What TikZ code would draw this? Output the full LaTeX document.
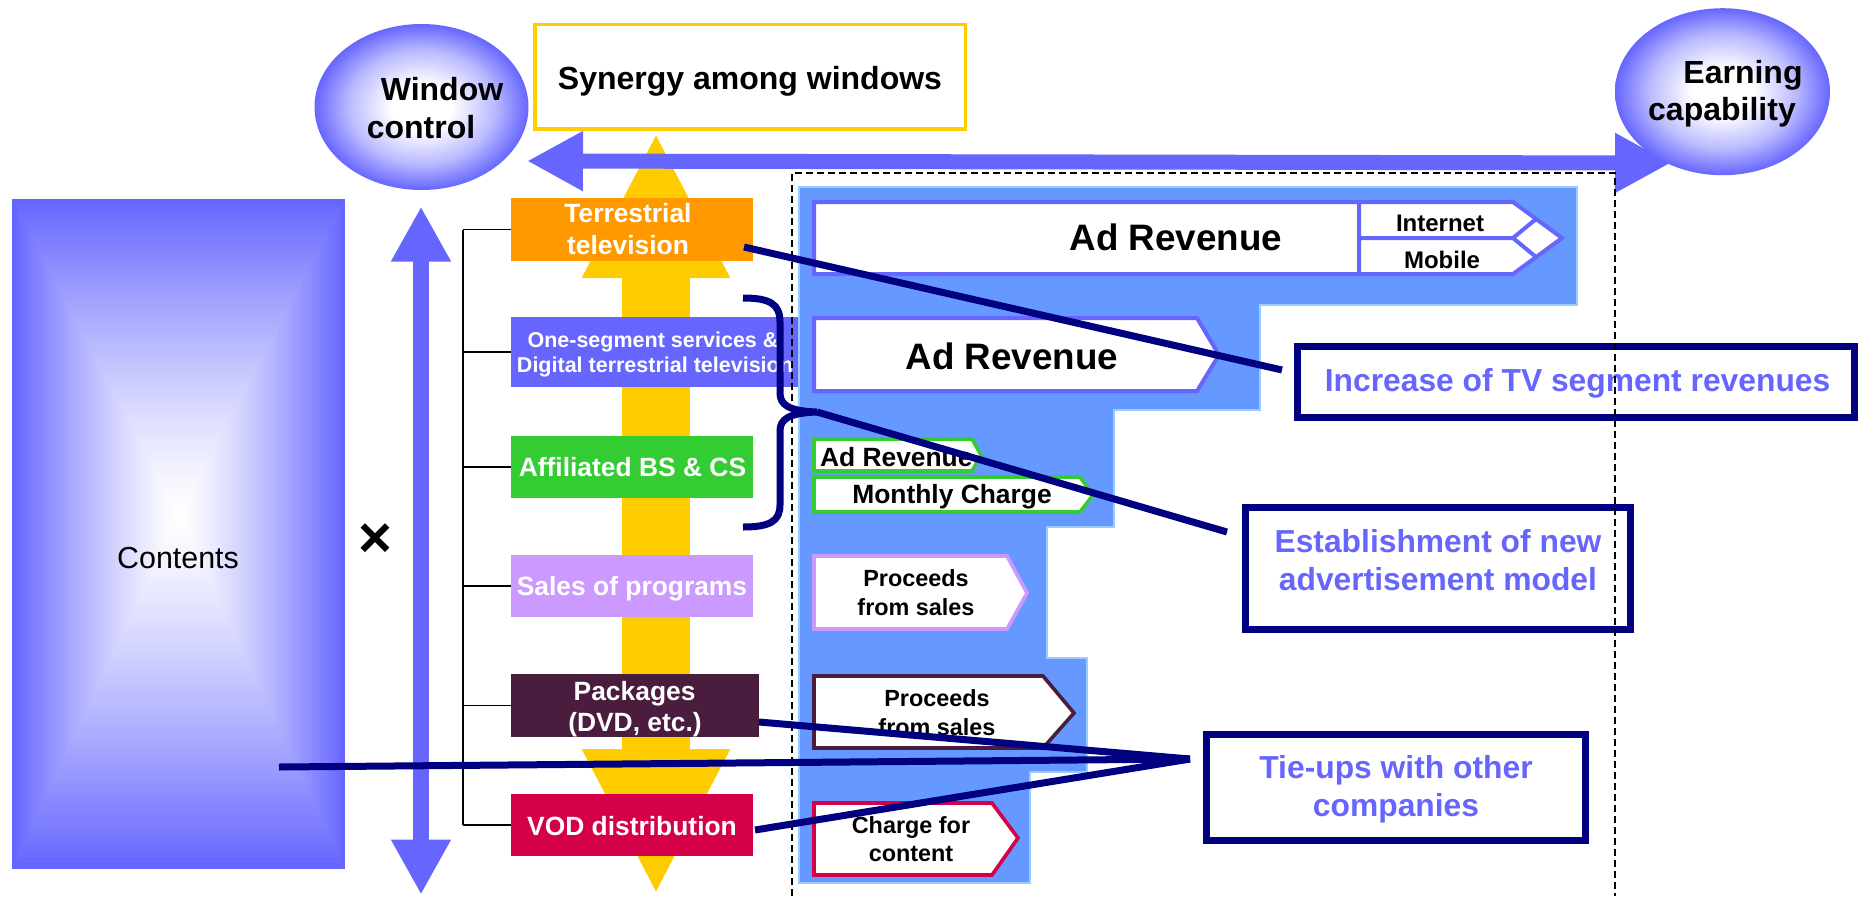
\documentclass[tikz,border=0pt]{standalone}
\usepackage{fontspec}
\setmainfont{Liberation Sans}
\usetikzlibrary{arrows.meta,shapes.geometric,calc}

\definecolor{periw}{HTML}{6666FF}
\definecolor{gold}{HTML}{FFCC00}
\definecolor{tvorange}{HTML}{FF9900}
\definecolor{bsgreen}{HTML}{33CC33}
\definecolor{lilac}{HTML}{CC99FF}
\definecolor{plum}{HTML}{4A1C3E}
\definecolor{crimson}{HTML}{D4004A}
\definecolor{skyfill}{HTML}{6699FF}
\definecolor{skyedge}{HTML}{99CCFF}
\definecolor{navyline}{HTML}{000080}

% soft glow used inside the two bubbles
\pgfdeclareradialshading{softglow}{\pgfpoint{0bp}{0bp}}{%
  color(0bp)=(white); color(7bp)=(white); color(17bp)=(periw!45!white);
  color(25bp)=(periw); color(50bp)=(periw)}

% font sizes
\newcommand\dgTitle{\fontsize{16}{19}\selectfont\bfseries}
\newcommand\dgCont{\fontsize{15.2}{18}\selectfont}
\newcommand\dgBox{\fontsize{13.2}{15.8}\selectfont\bfseries}
\newcommand\dgSeg{\fontsize{10.75}{12.5}\selectfont\bfseries}
\newcommand\dgBig{\fontsize{18.4}{21}\selectfont\bfseries}
\newcommand\dgNet{\fontsize{12}{14}\selectfont\bfseries}
\newcommand\dgProc{\fontsize{11.7}{14}\selectfont\bfseries}
\newcommand\dgCall{\fontsize{15.9}{19}\selectfont\bfseries}
\newcommand\dgCross{\fontsize{29}{29}\selectfont\bfseries}

\begin{document}
\begin{tikzpicture}[x=0.5pt,y=-0.5pt,
  txt/.style={inner sep=0pt, outer sep=0pt, anchor=base},
  wtxt/.style={txt, text=white},
  ktxt/.style={txt, text=black},
  ctxt/.style={txt, text=periw, font=\dgCall},
  slot/.style={rectangle, inner sep=0pt, outer sep=0pt},
  bubble/.style={ellipse, inner sep=0pt, outer sep=0pt, shading=softglow},
  callout/.style={rectangle, draw=navyline, line width=3.5pt, fill=white, inner sep=0pt, outer sep=0pt},
  link/.style={draw=navyline, line width=3.5pt},
  tree/.style={draw=black, line width=0.8pt},
  pent/.style={line width=2pt, fill=white, line join=miter}
]
\useasboundingbox (0,0) rectangle (1860,896);
\fill[white] (0,0) rectangle (1860,896);

% ---- contents block with a rectangular gradient ----
\foreach \i in {0,...,59}{
  \pgfmathsetmacro\ff{1-\i/60}
  \pgfmathsetmacro\pc{100*(\ff^1.3)}
  \fill[periw!\pc!white] ({178.5-166.5*\ff},{515-316*\ff}) rectangle ({178.5+166.5*\ff},{515+354*\ff});
}
\node[ktxt, font=\dgCont] (contT) at (178,568) {Contents};

% ---- vertical double arrow and cross sign ----
\coordinate (vT) at (421,206.5);
\coordinate (vB) at (421,894.6);
\draw[periw, line width=8pt, {Triangle[length=27.5pt,width=28pt]}-{Triangle[length=27.5pt,width=28pt]}] (vT) -- (vB);
\node[inner sep=0pt, font=\dgCross] (times) at (375.5,541) {×};

% ---- yellow synergy arrow ----
\coordinate (yT) at (656,132);
\coordinate (yB) at (656,895);
\draw[gold, line width=34pt, {Triangle[length=73pt,width=68.5pt]}-{Triangle[length=73pt,width=68.5pt]}] (yT) -- (yB);

% ---- windows ----
\node[slot, fill=tvorange, minimum width=121pt, minimum height=31.5pt] (terr) at (632,229.5) {};
\node[slot, fill=periw, minimum width=144pt, minimum height=35pt] (seg) at (655,351.7) {};
\node[slot, fill=bsgreen, minimum width=121pt, minimum height=30.85pt] (bs) at (632,466.9) {};
\node[slot, fill=lilac, minimum width=121pt, minimum height=31pt] (sales) at (632,586) {};
\node[slot, fill=plum, minimum width=124pt, minimum height=31.35pt] (pkg) at (635,705.3) {};
\node[slot, fill=crimson, minimum width=120.75pt, minimum height=30.85pt] (vod) at (631.75,824.85) {};

\coordinate (trunk) at (463,0);
\foreach \b in {terr,seg,bs,sales,pkg,vod}{
  \draw[tree] (\b.west) -- (\b.west -| trunk);
}
\draw[tree] (terr.west -| trunk) -- (vod.west -| trunk);

\node[wtxt, font=\dgBox] (terrA) at (628,222.7) {Terrestrial};
\node[wtxt, font=\dgBox] (terrB) at (628,254) {television};
\node[wtxt, font=\dgSeg] (segA) at (653,347.7) {One-segment services \&};
\node[wtxt, font=\dgSeg] (segB) at (655,372.7) {Digital terrestrial television};
\node[wtxt, font=\dgBox] (bsT) at (632.5,476.7) {Affiliated BS \& CS};
\node[wtxt, font=\dgBox] (salesT) at (632,595) {Sales of programs};
\node[wtxt, font=\dgBox] (pkgA) at (634.6,700) {Packages};
\node[wtxt, font=\dgBox] (pkgB) at (635,731.7) {(DVD, etc.)};
\node[wtxt, font=\dgBox] (vodT) at (632,835) {VOD distribution};

% ---- revenue area ----
\filldraw[fill=skyfill, draw=skyedge, line width=0.8pt]
  (799,187) -- (1577,187) -- (1577,305) -- (1260,305) -- (1260,410) -- (1114,410)
  -- (1114,527) -- (1047,527) -- (1047,658) -- (1087,658) -- (1087,772) -- (1030,772)
  -- (1030,883) -- (799,883) -- cycle;

\draw[pent, draw=periw] (814,202) -- (1513,202) -- (1562,238) -- (1513,274) -- (814,274) -- cycle;
\draw[pent, draw=periw, fill=none] (1359,202) -- (1359,274) (1359,238) -- (1513,238)
  (1536,219) -- (1513,238) -- (1536,257);
\draw[pent, draw=periw] (814,318) -- (1197,318) -- (1219,355) -- (1197,391) -- (814,391) -- cycle;
\draw[pent, draw=bsgreen, line width=1.8pt] (814,439) -- (972,439) -- (981,455) -- (972,471) -- (814,471) -- cycle;
\draw[pent, draw=bsgreen, line width=1.8pt] (814,477) -- (1080,477) -- (1093,495) -- (1080,512) -- (814,512) -- cycle;
\draw[pent, draw=lilac, line width=1.8pt] (814,556) -- (1007,556) -- (1027,593) -- (1007,629) -- (814,629) -- cycle;
\draw[pent, draw=plum, line width=1.8pt] (814,676) -- (1043,676) -- (1074,713) -- (1043,748) -- (814,748) -- cycle;
\draw[pent, draw=crimson, line width=1.8pt] (814,803) -- (992,803) -- (1018,838) -- (992,875) -- (814,875) -- cycle;

\node[ktxt, font=\dgBig] (adA) at (1176,250) {Ad Revenue};
\node[ktxt, font=\dgNet] (netT) at (1440,231) {Internet};
\node[ktxt, font=\dgNet] (mobT) at (1442,268.3) {Mobile};
\node[ktxt, font=\dgBig] (adB) at (1012,369) {Ad Revenue};
\node[ktxt, font=\dgBox, anchor=base west] (adC) at (820,466) {Ad Revenue};
\node[ktxt, font=\dgBox] (monT) at (952,503.3) {Monthly Charge};
\node[ktxt, font=\dgProc] (procA1) at (916,586.7) {Proceeds};
\node[ktxt, font=\dgProc] (procA2) at (916,615.7) {from sales};
\node[ktxt, font=\dgProc] (procB1) at (937,706.7) {Proceeds};
\node[ktxt, font=\dgProc] (procB2) at (937,735) {from sales};
\node[ktxt, font=\dgProc] (chgA) at (911,833) {Charge for};
\node[ktxt, font=\dgProc] (chgB) at (911,861.7) {content};

% ---- goals ----
\node[callout, minimum width=278.5pt, minimum height=35.5pt] (incr) at (1576,382) {};
\node[callout, minimum width=192.75pt, minimum height=60.85pt] (estab) at (1437.75,568.35) {};
\node[callout, minimum width=189.5pt, minimum height=53.3pt] (tieups) at (1396,787.5) {};
\node[ctxt] (incrT) at (1577.6,391.7) {Increase of TV segment revenues};
\node[ctxt] (estA) at (1438,552.7) {Establishment of new};
\node[ctxt] (estB) at (1438,590) {advertisement model};
\node[ctxt] (tieA) at (1396,778.3) {Tie-ups with other};
\node[ctxt] (tieB) at (1396,816.7) {companies};

% ---- top row ----
\node[rectangle, draw=gold, line width=1.75pt, fill=white, inner sep=0pt,
      minimum width=215.25pt, minimum height=52.25pt] (syn) at (750,76.7) {};
\node[ktxt, font=\dgTitle] (synT) at (750,89.3) {Synergy among windows};

\node[bubble, minimum width=107pt, minimum height=83pt] (winctl) at (421.5,107) {};
\node[ktxt, font=\dgTitle] (winA) at (442,100) {Window};
\node[ktxt, font=\dgTitle] (winB) at (421,138) {control};

\coordinate (hL) at (527,161);
\coordinate (hR) at (1671,163);
\draw[periw, line width=7.5pt, {Triangle[length=28pt,width=28pt]}-{Triangle[length=28pt,width=28pt]}] (hL) -- (hR);

\node[bubble, minimum width=107.5pt, minimum height=83.5pt] (earn) at (1722.5,91.7) {};
\node[ktxt, font=\dgTitle] (earnA) at (1743,83.3) {Earning};
\node[ktxt, font=\dgTitle] (earnB) at (1722,120.7) {capability};

% ---- dashed frame round the revenue area ----
\draw[black, line width=0.7pt, dash pattern=on 3.5pt off 2pt]
  (792,896) -- (792,173) -- (1615,173) -- (1615,896);

% ---- links ----
\coordinate (tvA) at (744,247);
\coordinate (tvB) at (1282,370);
\coordinate (braceTip) at (817,412);
\coordinate (estIn) at (1227,532);
\coordinate (pkgOut) at (759,722);
\coordinate (vodOut) at (755,830);
\coordinate (cntOut) at (279,767);
\coordinate (tieIn) at (1190,759);

\draw[link] (tvA) -- (tvB);
\draw[link] (743,298) .. controls (770,298) and (780,304) .. (780,322) -- (780,393)
  .. controls (780,405) and (789,411) .. (braceTip)
  .. controls (789,413) and (780,419) .. (780,431) -- (780,505)
  .. controls (780,521) and (770,527) .. (743,527);
\draw[link] (braceTip) -- (estIn);
\draw[link] (pkgOut) -- (tieIn);
\draw[link] (cntOut) -- (tieIn);
\draw[link] (vodOut) -- (tieIn);
\end{tikzpicture}
\end{document}
